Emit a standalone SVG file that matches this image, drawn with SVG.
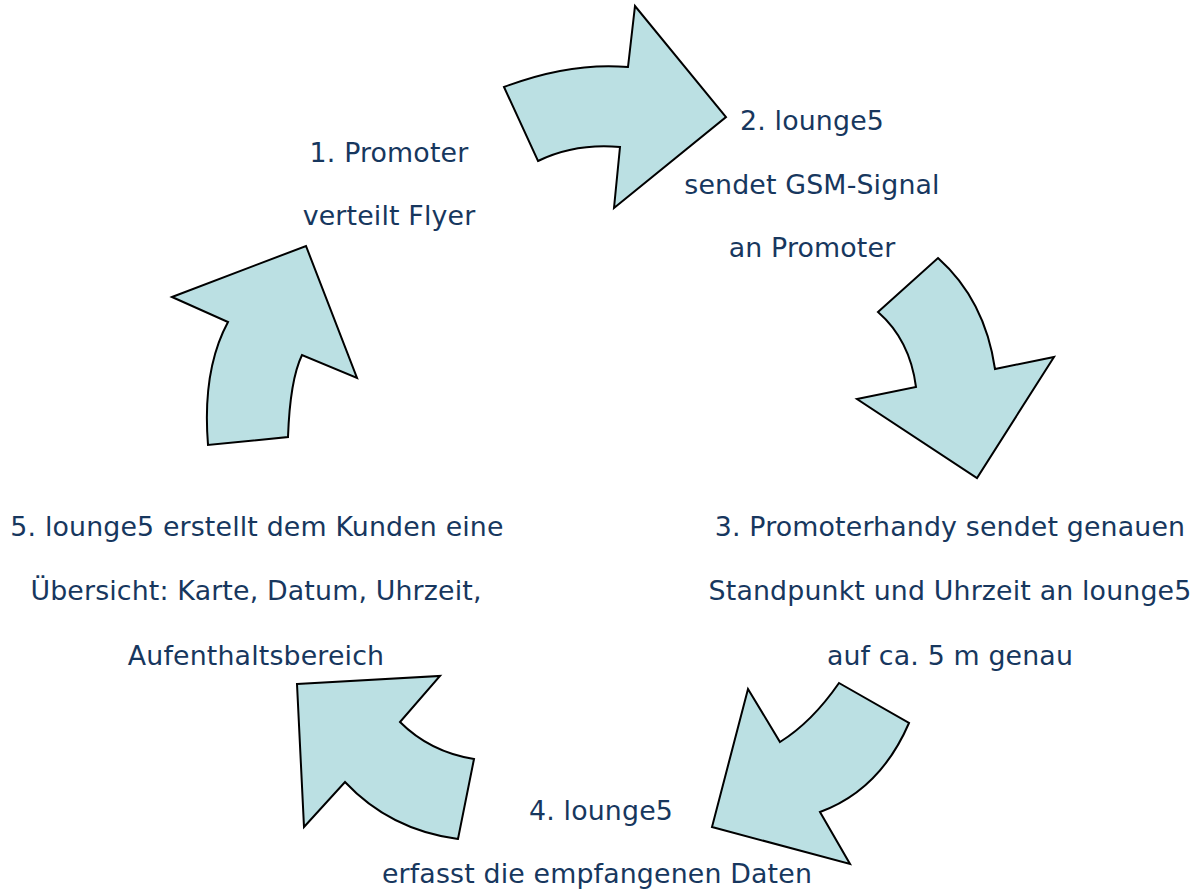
<svg xmlns="http://www.w3.org/2000/svg" width="1193" height="889" viewBox="0 0 1193 889">
<style>
.arrow{fill:#bbe0e3;stroke:#000;stroke-width:2;stroke-linejoin:miter}
.t{font-family:"DejaVu Sans","Verdana",sans-serif;font-size:26.8px;letter-spacing:0.15px;fill:#17375e;text-anchor:middle}
</style>
<rect width="1193" height="889" fill="#fff"/>
<g id="connectors">
<path id="arrow1" class="arrow" d="M504,87 Q570,62 628,67 L635,6 L726,117 L614,208 L620,147 Q575,143 538,161 Z"/>
<path id="arrow2" class="arrow" d="M938,258 Q985,300 995,369 L1054,357 L977,478 L857,399 L916,387 Q910,340 878,312 Z"/>
<path id="arrow3" class="arrow" d="M839,683 L909,723 Q880,790 820,812 L850,864 L712,827 L748,689 L780,742 Q812,722 839,683 Z"/>
<path id="arrow4" class="arrow" d="M297,684 L440,676 L400,722 Q430,752 474,759 L458,839 Q390,830 345,782 L304,827 Z"/>
<path id="arrow5" class="arrow" d="M172,297 L306,246 L357,378 L302,355 Q290,380 288,437 L208,445 Q202,370 228,322 Z"/>
</g>
<g id="node1">
<text class="t" x="389" y="162">1. Promoter</text>
<text class="t" x="389" y="225">verteilt Flyer</text>
</g>
<g id="node2">
<text class="t" x="812" y="130">2. lounge5</text>
<text class="t" x="812" y="194">sendet GSM-Signal</text>
<text class="t" x="812" y="257">an Promoter</text>
</g>
<g id="node3">
<text class="t" x="950" y="536">3. Promoterhandy sendet genauen</text>
<text class="t" x="950" y="600">Standpunkt und Uhrzeit an lounge5</text>
<text class="t" x="950" y="665">auf ca. 5 m genau</text>
</g>
<g id="node4">
<text class="t" x="601" y="820">4. lounge5</text>
<text class="t" x="597" y="883">erfasst die empfangenen Daten</text>
</g>
<g id="node5">
<text class="t" x="257" y="536">5. lounge5 erstellt dem Kunden eine</text>
<text class="t" x="256" y="600">Übersicht: Karte, Datum, Uhrzeit,</text>
<text class="t" x="256" y="665">Aufenthaltsbereich</text>
</g>
</svg>
